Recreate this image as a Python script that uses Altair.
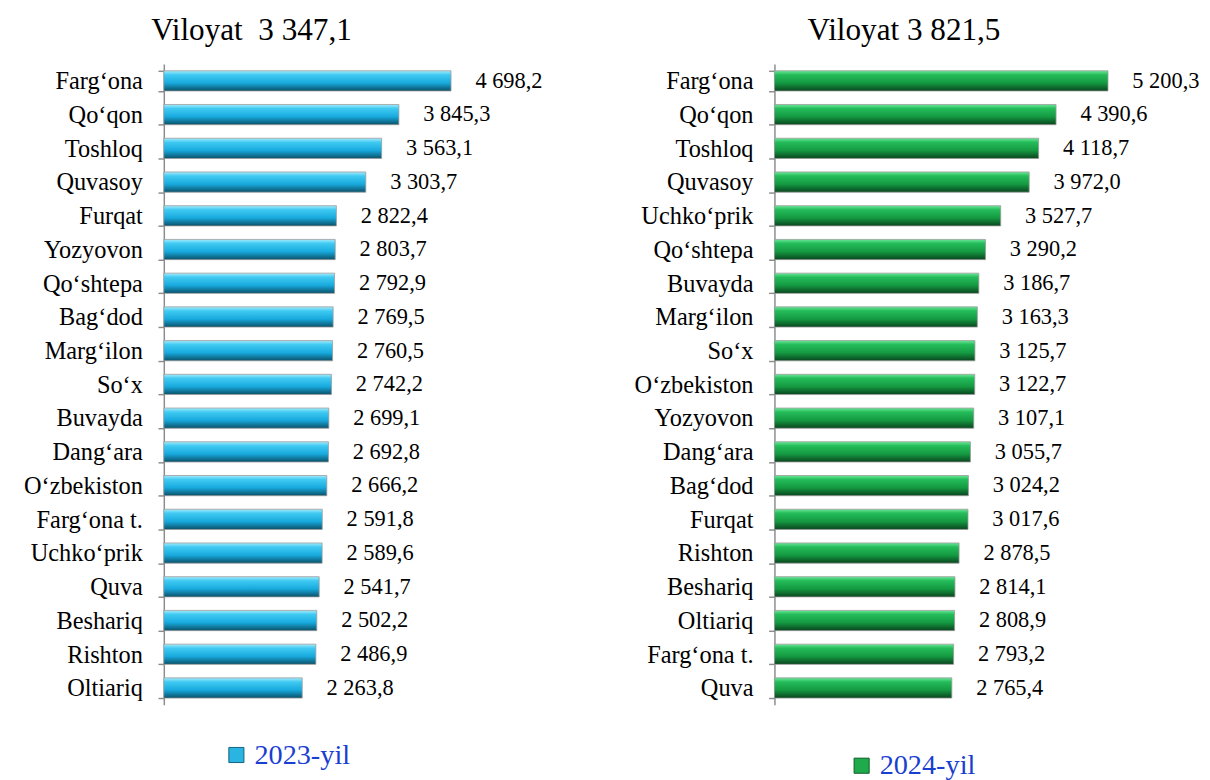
import altair as alt
import pandas as pd

regions_2023 = ["Farg‘ona", "Qo‘qon", "Toshloq", "Quvasoy", "Furqat", "Yozyovon",
                "Qo‘shtepa", "Bag‘dod", "Marg‘ilon", "So‘x", "Buvayda", "Dang‘ara",
                "O‘zbekiston", "Farg‘ona t.", "Uchko‘prik", "Quva", "Beshariq",
                "Rishton", "Oltiariq"]
values_2023 = [4698.2, 3845.3, 3563.1, 3303.7, 2822.4, 2803.7, 2792.9, 2769.5, 2760.5,
               2742.2, 2699.1, 2692.8, 2666.2, 2591.8, 2589.6, 2541.7, 2502.2, 2486.9,
               2263.8]

regions_2024 = ["Farg‘ona", "Qo‘qon", "Toshloq", "Quvasoy", "Uchko‘prik", "Qo‘shtepa",
                "Buvayda", "Marg‘ilon", "So‘x", "O‘zbekiston", "Yozyovon", "Dang‘ara",
                "Bag‘dod", "Furqat", "Rishton", "Beshariq", "Oltiariq", "Farg‘ona t.",
                "Quva"]
values_2024 = [5200.3, 4390.6, 4118.7, 3972.0, 3527.7, 3290.2, 3186.7, 3163.3, 3125.7,
               3122.7, 3107.1, 3055.7, 3024.2, 3017.6, 2878.5, 2814.1, 2808.9, 2793.2,
               2765.4]

title_2023 = "Viloyat\u00a0 3 347,1"
title_2024 = "Viloyat 3 821,5"
legend_2023 = "2023-yil"
legend_2024 = "2024-yil"

FONT = "Liberation Serif"


def fmt(v):
    return f"{v:,.1f}".replace(",", " ").replace(".", ",")


def panel(regions, values, year_label, title, grad_stops, legend_color, legend_stroke,
          xmax, width, title_dx, leg_x, leg_y):
    df = pd.DataFrame({
        "region": regions,
        "value": values,
        "label": [fmt(v) for v in values],
        "year": [year_label] * len(values),
    })
    y = alt.Y("region:N", sort=regions, title=None,
              scale=alt.Scale(paddingInner=0.4, paddingOuter=0.2),
              axis=alt.Axis(labelFont=FONT, labelFontSize=25, labelColor="#000000",
                            labelPadding=16, tickBand="extent", tickSize=6,
                            tickColor="#8c8c8c", domainColor="#8c8c8c", domainWidth=1.5,
                            tickWidth=1.5, grid=False, labelLimit=300))
    x = alt.X("value:Q", scale=alt.Scale(domain=[0, xmax], nice=False), axis=None)
    base = alt.Chart(df).encode(y=y, x=x)
    bars = base.mark_bar(
        color=alt.LinearGradient(gradient="linear", x1=0, x2=0, y1=0, y2=1,
                                 stops=[alt.GradientStop(color=c, offset=o) for o, c in grad_stops]),
        stroke="#9a9a9a", strokeWidth=0.8,
    )
    texts = base.mark_text(align="left", baseline="middle", dx=25, font=FONT,
                           fontSize=23, color="#000000").encode(text="label:N")
    leg = base.mark_square(opacity=0, size=10).encode(
        color=alt.Color("year:N", scale=alt.Scale(domain=[year_label], range=[legend_color]),
                        legend=alt.Legend(title=None, orient="none", legendX=leg_x,
                                          legendY=leg_y, labelFont=FONT, labelFontSize=29,
                                          labelColor="#1a3fd0", symbolType="square",
                                          symbolSize=240, symbolOpacity=1,
                                          symbolStrokeColor=legend_stroke,
                                          symbolStrokeWidth=1, labelOffset=4,
                                          symbolFillColor=legend_color)))
    return alt.layer(bars, texts, leg).properties(
        width=width, height=658,
        title=alt.TitleParams(title, font=FONT, fontSize=32, fontWeight="normal",
                              color="#000000", anchor="start", frame="group",
                              dx=title_dx, offset=6),
    )


blue_stops = [(0.0, "#a5ebfc"), (0.2, "#40caf2"), (0.6, "#18aade"), (1.0, "#0a5068")]
green_stops = [(0.0, "#6ce898"), (0.2, "#24bc5a"), (0.6, "#159a42"), (1.0, "#09451e")]

left = panel(regions_2023, values_2023, legend_2023, title_2023, blue_stops, "#29b4e2",
             "#15607c", 6500, 408, -13, 60, 695)
right = panel(regions_2024, values_2024, legend_2024, title_2024, green_stops, "#1faa4c",
              "#0c5a28", 6150, 405, 34, 75, 706)

chart = alt.hconcat(left, right, spacing=74).resolve_scale(color="independent").properties(
    padding={"left": 15, "top": -4, "right": 2, "bottom": 2}
).configure_view(stroke=None)

chart.save("out.html", embed_options={"renderer": "svg", "actions": False})
